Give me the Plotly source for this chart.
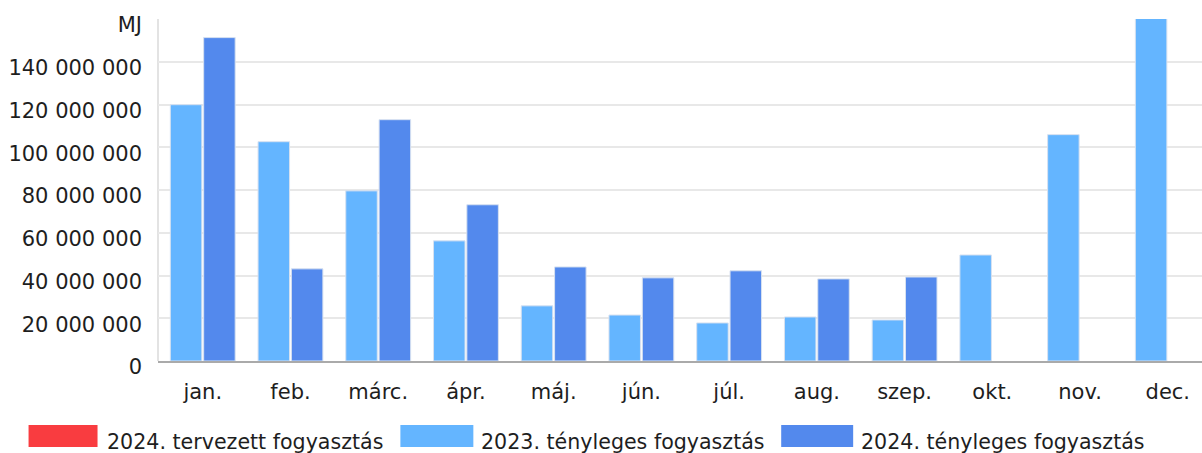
import plotly.graph_objects as go

months = ["jan.", "feb.", "márc.", "ápr.", "máj.", "jún.", "júl.", "aug.", "szep.", "okt.", "nov.", "dec."]
planned_2024 = [None] * 12
actual_2023 = [119.9e6, 102.6e6, 79.6e6, 56.2e6, 25.8e6, 21.5e6, 17.8e6, 20.6e6, 19.2e6, 49.6e6, 105.9e6, 172e6]
actual_2024 = [151.3e6, 43.1e6, 112.9e6, 73.1e6, 44.0e6, 38.9e6, 42.2e6, 38.4e6, 39.3e6, None, None, None]
y_tickvals = [0, 20e6, 40e6, 60e6, 80e6, 100e6, 120e6, 140e6, 160e6]
y_ticktext = ["0", "20 000 000", "40 000 000", "60 000 000", "80 000 000",
              "100 000 000", "120 000 000", "140 000 000", "MJ"]
legend_names = ["2024. tervezett fogyasztás", "2023. tényleges fogyasztás", "2024. tényleges fogyasztás"]
colors = ["#f93c40", "#64b5ff", "#5389ed"]

W, H = 1202, 453
L, R, T, B = 157.5, 0, 19, 92
TXT = "#1e1e1e"
FONT = "DejaVu Sans"
FS = 21

fig = go.Figure()
line = dict(width=1, color="rgba(215,225,240,1)")
fig.add_trace(go.Bar(x=months, y=planned_2024, name=legend_names[0], marker_color=colors[0],
                     offsetgroup="a", showlegend=False))
fig.add_trace(go.Bar(x=months, y=actual_2023, name=legend_names[1], marker_color=colors[1],
                     marker_line=line, offsetgroup="a", showlegend=False))
fig.add_trace(go.Bar(x=months, y=actual_2024, name=legend_names[2], marker_color=colors[2],
                     marker_line=line, offsetgroup="b", showlegend=False))

pw = W - L - R
ph = H - T - B
def px(x):
    return (x - L) / pw
def py(y):
    return (H - B - y) / ph

legend_items = [(28, 97, 104), (400, 473, 479), (781, 853, 859)]
shapes = []
annotations = []
for (x0, x1, tx), name, c in zip(legend_items, legend_names, colors):
    shapes.append(dict(type="rect", xref="paper", yref="paper", x0=px(x0), x1=px(x1),
                       y0=py(447), y1=py(425), fillcolor=c, line=dict(width=0)))
    annotations.append(dict(xref="paper", yref="paper", x=px(tx), y=py(442), text=name,
                            showarrow=False, xanchor="left", yanchor="middle",
                            font=dict(family=FONT, size=20.6, color=TXT)))
# left axis line
shapes.append(dict(type="line", xref="paper", yref="paper", x0=0, x1=0, y0=0, y1=1,
                   line=dict(color="#e3e3e3", width=2), layer="below"))

fig.update_layout(
    width=W, height=H,
    margin=dict(l=L, r=R, t=T, b=B, pad=0),
    paper_bgcolor="white", plot_bgcolor="white",
    barmode="group", bargap=0.24, bargroupgap=0.055,
    font=dict(family=FONT, size=FS, color=TXT),
    shapes=shapes, annotations=annotations,
    xaxis=dict(range=[-0.510, 11.39], showgrid=False, showline=True, linecolor="#aaaaaa",
               linewidth=2, ticks="", ticklabelstandoff=11, tickfont=dict(size=FS, color=TXT)),
    yaxis=dict(range=[0, 160e6], tickvals=y_tickvals, ticktext=y_ticktext,
               showgrid=True, gridcolor="#e8e8e8", gridwidth=2, zeroline=False,
               showline=False, ticks="", ticklabelstandoff=15, ticklabelshift=6,
               tickfont=dict(size=FS, color=TXT)),
)

fig.write_html("out.html")
